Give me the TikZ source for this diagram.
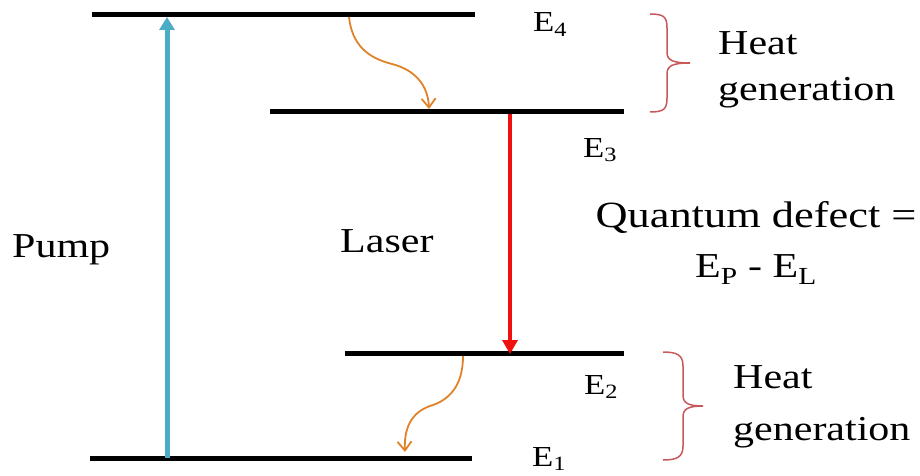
\documentclass[tikz,border=0pt]{standalone}
\usepackage{fontspec}
\setmainfont{Liberation Serif}
\newfontfamily\tnr{Liberation Serif}[FakeStretch=1.2]
\usetikzlibrary{arrows.meta}
\definecolor{cbomba}{HTML}{4BACC6}
\definecolor{claser}{HTML}{F01010}
\definecolor{ccalor}{HTML}{E0822A}
\definecolor{cllave}{HTML}{C8585A}
\tikzset{
  nivel/.style={line width=5pt,draw=black},
  flechab/.style={-{Triangle[length=13pt,width=15pt]},line width=5pt,draw=cbomba},
  flechal/.style={-{Triangle[length=14pt,width=15pt]},line width=4pt,draw=claser},
  flechac/.style={-{Straight Barb[length=9pt,width=14pt]},line width=1.8pt,draw=ccalor},
  llave/.style={draw=cllave,line width=1.5pt},
  et/.style={font=\tnr\fontsize{35}{50}\selectfont,inner sep=0pt,align=center},
  etn/.style={font=\tnr\fontsize{29}{34}\selectfont,inner sep=0pt,anchor=base west},
}
\begin{document}
\begin{tikzpicture}[x=1pt,y=-1pt]
\useasboundingbox (0,0) rectangle (920,476);

% niveles de energia
\coordinate (e4a) at (92,15);  \coordinate (e4b) at (475,15);
\coordinate (e3a) at (270,112); \coordinate (e3b) at (624,112);
\coordinate (e2a) at (345,353); \coordinate (e2b) at (624,353);
\coordinate (e1a) at (90,458);  \coordinate (e1b) at (472,458);
\draw[nivel] (e4a) -- (e4b);
\draw[nivel] (e3a) -- (e3b);
\draw[nivel] (e2a) -- (e2b);
\draw[nivel] (e1a) -- (e1b);

\node[etn] (n4) at (533,32)  {E\textsubscript{4}};
\node[etn] (n3) at (583,157) {E\textsubscript{3}};
\node[etn] (n2) at (584,394) {E\textsubscript{2}};
\node[etn] (n1) at (532,466) {E\textsubscript{1}};

% transiciones
\coordinate (pb) at (167,458); \coordinate (pt) at (167,17);
\draw[flechab] (pb) -- (pt);
\coordinate (lt) at (510,114); \coordinate (lb) at (510,354);
\draw[flechal] (lt) -- (lb);

\coordinate (c4) at (349,17); \coordinate (c3) at (429,109);
\draw[flechac] (c4) .. controls (352,45) and (368,58) .. (392,64)
  .. controls (415,70) and (428,85) .. (c3);
\coordinate (c2) at (463,356); \coordinate (c1) at (405,452);
\draw[flechac] (c2) .. controls (463,385) and (450,400) .. (430,406)
  .. controls (410,413) and (404,430) .. (c1);

% llaves, dibujadas a mano
\coordinate (k4) at (650,14);  \coordinate (k3) at (650,112); \coordinate (kp1) at (690,63);
\coordinate (k2) at (663,352); \coordinate (k1) at (663,460); \coordinate (kp2) at (703,406);
\draw[llave] (k4) .. controls (664,14) and (667,17) .. (667,28) -- (667,52)
  .. controls (667,60) and (672,63) .. (kp1)
  .. controls (672,63) and (667,66) .. (667,74) -- (667,98)
  .. controls (667,109) and (664,112) .. (k3);
\draw[llave] (k2) .. controls (677,352) and (683,355) .. (683,366) -- (683,395)
  .. controls (683,403) and (688,406) .. (kp2)
  .. controls (688,406) and (683,409) .. (683,417) -- (683,446)
  .. controls (683,457) and (677,460) .. (k1);

\node[et,anchor=base west,align=left] (calor1) at (718,101) {Heat\\[-4pt]generation};
\node[et,anchor=base west,align=left] (calor2) at (733,440) {Heat\\[2pt]generation};

\node[et,anchor=base] (qd) at (756,277) {{\fontsize{37}{52}\selectfont Quantum defect =}\\E\textsubscript{P} - E\textsubscript{L}};
\node[et,anchor=base west] (pump) at (12,257) {Pump};
\node[et,anchor=base west] (laser) at (340,252) {Laser};

\end{tikzpicture}
\end{document}
